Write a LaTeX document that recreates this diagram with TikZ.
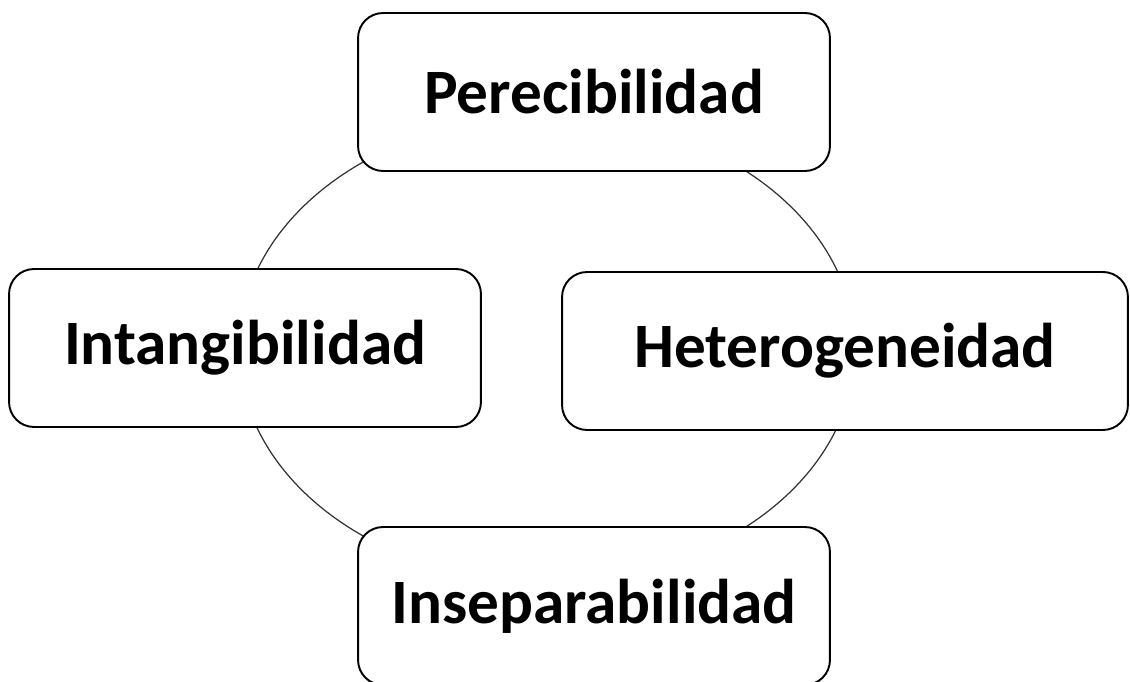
\documentclass[tikz,border=0pt]{standalone}
\usepackage{fontspec}
\setmainfont{Carlito}
\begin{document}
\begin{tikzpicture}[x=0.02cm,y=-0.02cm,
    rasgo/.style={draw=black, line width=1.1pt, fill=white, rounded corners=0.5cm,
      minimum width=9.44cm, minimum height=3.16cm, inner sep=0pt,
      font=\fontsize{36}{40}\selectfont\bfseries}]
    \useasboundingbox (0,0) rectangle (1130,682);
    \draw[line width=0.7pt, black!80] (547,349) ellipse [x radius=308, y radius=233];

    \node (PER) [rasgo] at (594,92) {Perecibilidad};
    \node (INT) [rasgo] at (245,348) {Intangibilidad};
    \node (HET) [rasgo, minimum width=11.32cm] at (845,351) {Heterogeneidad};
    \node (INS) [rasgo] at (594,606) {Inseparabilidad};
  \end{tikzpicture}
\end{document}
